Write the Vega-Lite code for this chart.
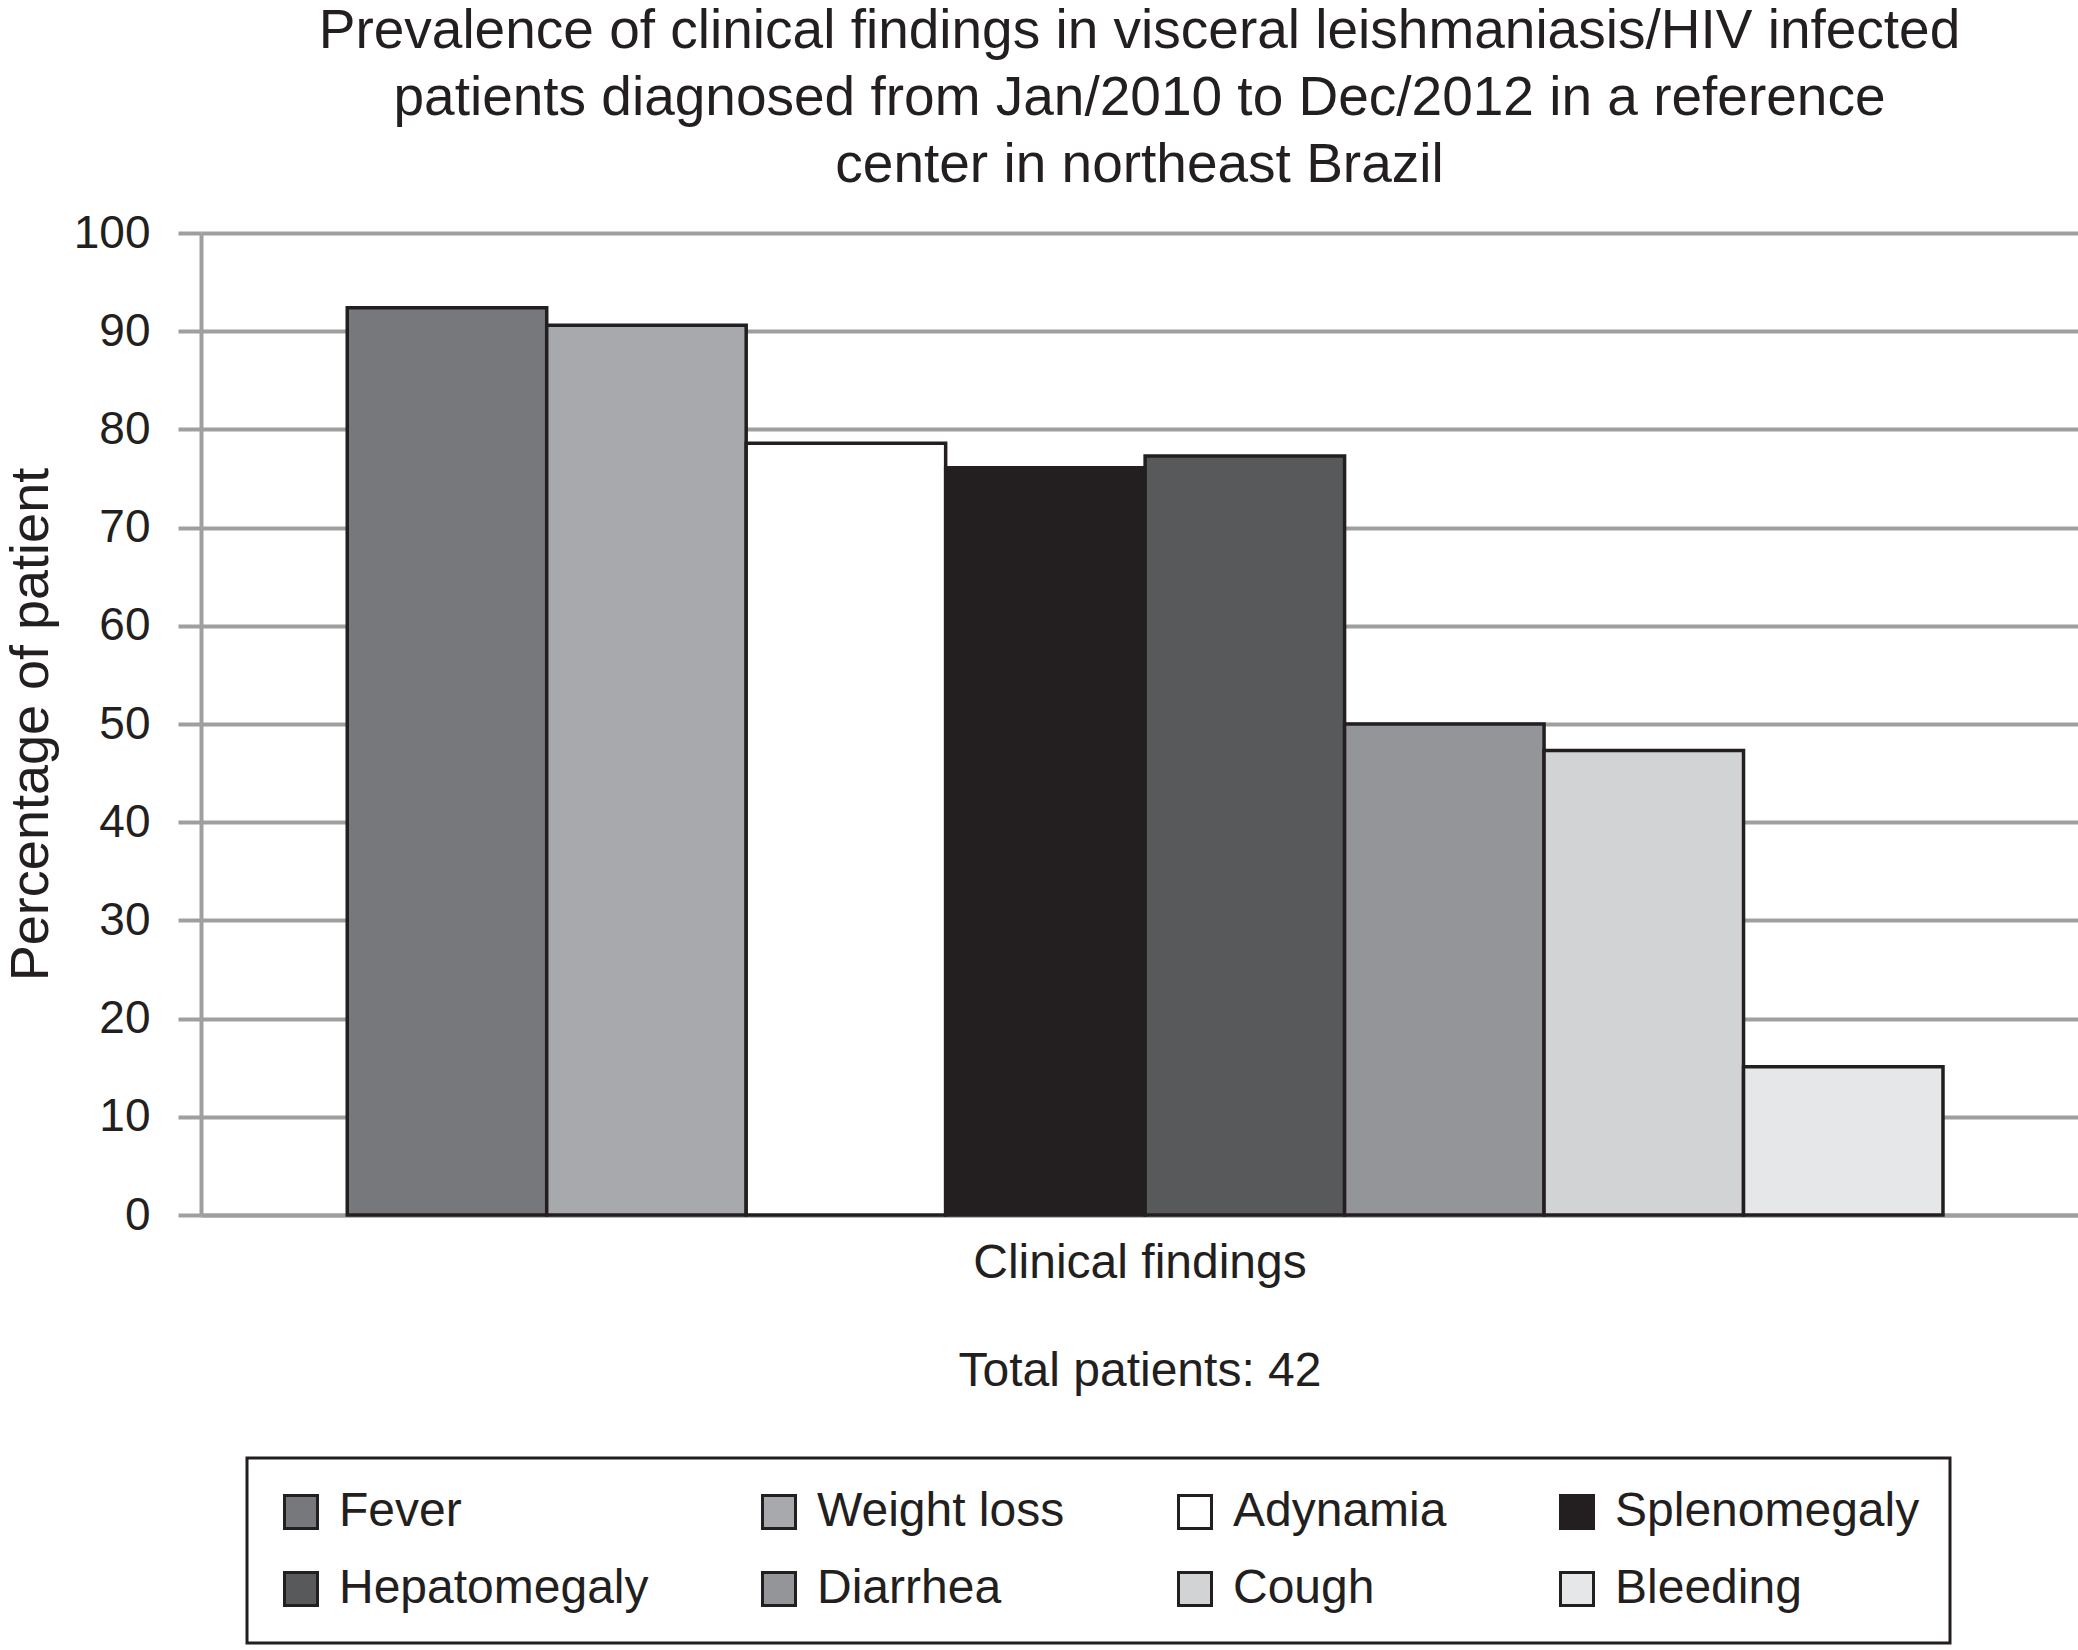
{
  "$schema": "https://vega.github.io/schema/vega-lite/v6.json",
  "width": 1877,
  "height": 982,
  "autosize": {"type": "none"},
  "padding": {"left": 201, "top": 233, "right": 0, "bottom": 435},
  "background": "white",
  "config": {"view": {"stroke": null}, "font": "Liberation Sans", "legend": {"strokeWidth": 3}},
  "title": {
    "text": [
      "Prevalence of clinical findings in visceral leishmaniasis/HIV infected",
      "patients diagnosed from Jan/2010 to Dec/2012 in a reference",
      "center in northeast Brazil"
    ],
    "fontSize": 55,
    "fontWeight": "normal",
    "lineHeight": 67,
    "color": "#231f20",
    "anchor": "middle",
    "frame": "group",
    "offset": 16
  },
  "data": {
    "values": [
      {"finding": "Fever", "pct": 92.4},
      {"finding": "Weight loss", "pct": 90.6},
      {"finding": "Adynamia", "pct": 78.6},
      {"finding": "Splenomegaly", "pct": 76.1},
      {"finding": "Hepatomegaly", "pct": 77.3},
      {"finding": "Diarrhea", "pct": 50},
      {"finding": "Cough", "pct": 47.3},
      {"finding": "Bleeding", "pct": 15.1}
    ]
  },
  "mark": {"type": "bar", "stroke": "#231f20", "strokeWidth": 3.5},
  "encoding": {
    "x": {
      "field": "finding",
      "type": "nominal",
      "sort": null,
      "scale": {"paddingInner": 0, "paddingOuter": 0.705, "align": 0.52},
      "axis": {
        "labels": false,
        "ticks": false,
        "domainColor": "#9f9f9f",
        "domainWidth": 4,
        "title": ["Clinical findings", "Total patients: 42"],
        "titleFontSize": 48,
        "titleLineHeight": 108,
        "titleFontWeight": "normal",
        "titleColor": "#231f20",
        "titleBaseline": "alphabetic",
        "titleY": 62
      }
    },
    "y": {
      "field": "pct",
      "type": "quantitative",
      "scale": {"domain": [0, 100]},
      "axis": {
        "values": [0, 10, 20, 30, 40, 50, 60, 70, 80, 90, 100],
        "title": "Percentage of patient",
        "titleFontSize": 54,
        "titleFontWeight": "normal",
        "titleColor": "#231f20",
        "titleX": -154,
        "titleY": 491,
        "titleBaseline": "alphabetic",
        "labelFontSize": 46,
        "labelColor": "#231f20",
        "labelPadding": 28,
        "tickSize": 23,
        "tickWidth": 4,
        "tickColor": "#9f9f9f",
        "domainColor": "#9f9f9f",
        "domainWidth": 4,
        "grid": true,
        "gridColor": "#9f9f9f",
        "gridWidth": 4
      }
    },
    "color": {
      "field": "finding",
      "type": "nominal",
      "scale": {
        "domain": ["Fever", "Weight loss", "Adynamia", "Splenomegaly", "Hepatomegaly", "Diarrhea", "Cough", "Bleeding"],
        "range": ["#77787b", "#a7a9ac", "#ffffff", "#231f20", "#58595b", "#939598", "#d1d3d4", "#e6e7e8"]
      },
      "legend": {
        "orient": "none",
        "legendX": 46,
        "legendY": 1225,
        "direction": "horizontal",
        "columns": 4,
        "title": null,
        "symbolType": "square",
        "symbolSize": 1089,
        "symbolStrokeColor": "#231f20",
        "symbolStrokeWidth": 3,
        "labelFontSize": 48,
        "labelColor": "#231f20",
        "labelOffset": 14,
        "labelLimit": 0,
        "columnPadding": 106,
        "rowPadding": 29,
        "padding": 30,
        "strokeColor": "#231f20",
        "fillColor": "white"
      }
    }
  }
}
